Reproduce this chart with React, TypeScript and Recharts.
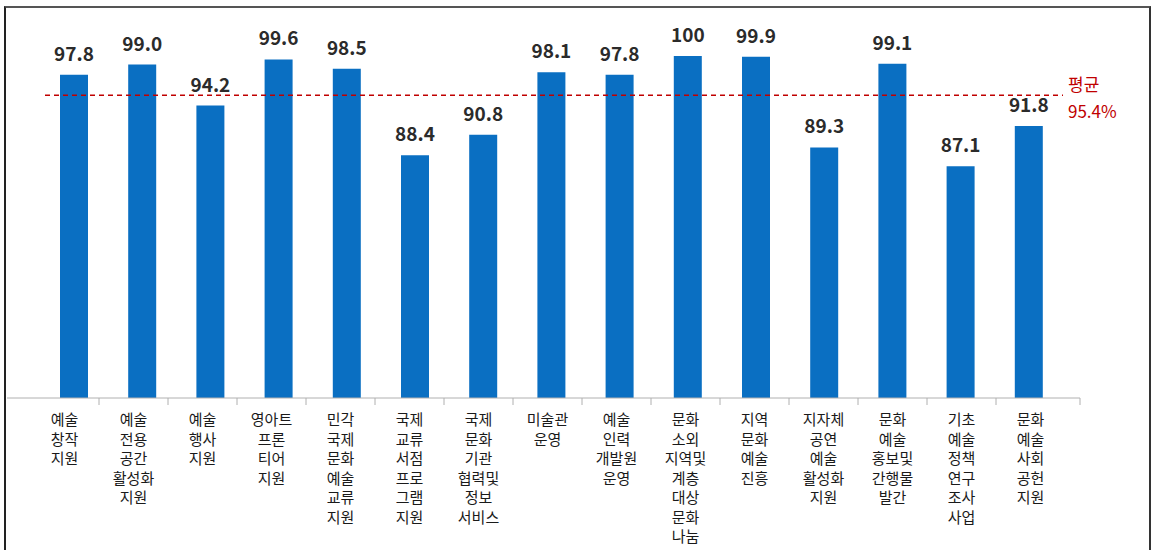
import { BarChart, Bar, XAxis, YAxis, ReferenceLine, LabelList } from 'recharts'

// 사업별 만족도 — 막대 15개, 평균선 95.4%
const categories = [
  '예술\n창작\n지원',
  '예술\n전용\n공간\n활성화\n지원',
  '예술\n행사\n지원',
  '영아트\n프론\n티어\n지원',
  '민각\n국제\n문화\n예술\n교류\n지원',
  '국제\n교류\n서점\n프로\n그램\n지원',
  '국제\n문화\n기관\n협력및\n정보\n서비스',
  '미술관\n운영',
  '예술\n인력\n개발원\n운영',
  '문화\n소외\n지역및\n계층\n대상\n문화\n나눔',
  '지역\n문화\n예술\n진흥',
  '지자체\n공연\n예술\n활성화\n지원',
  '문화\n예술\n홍보및\n간행물\n발간',
  '기초\n예술\n정책\n연구\n조사\n사업',
  '문화\n예술\n사회\n공헌\n지원',
]
const values = [97.8, 99.0, 94.2, 99.6, 98.5, 88.4, 90.8, 98.1, 97.8, 100, 99.9, 89.3, 99.1, 87.1, 91.8]
const average = 95.4
const averageLabel = ['평균', '95.4%']

const data = categories.map((name, i) => ({ name, value: values[i] }))

const FONT = '"Noto Sans CJK KR", "Noto Sans", sans-serif'
const BLUE = '#0a6fc2'
const RED = '#c00000'
const HALF_BAND = 34.5

function CategoryTick(props: any) {
  const { x, y, payload, index } = props
  const lines = String(payload.value).split('\n')
  return (
    <g>
      {index > 0 && <line x1={x - HALF_BAND} x2={x - HALF_BAND} y1={y} y2={y + 7} stroke="#b0b0b0" />}
      {index === categories.length - 1 && (
        <line x1={x + HALF_BAND + 15} x2={x + HALF_BAND + 15} y1={y} y2={y + 7} stroke="#b0b0b0" />
      )}
      <text x={x} y={y + 27} textAnchor="middle" fontSize={15} fill="#1a1a1a" fontFamily={FONT}>
        {lines.map((l, i) => (
          <tspan key={i} x={x} dy={i === 0 ? 0 : 19.5}>{l}</tspan>
        ))}
      </text>
    </g>
  )
}

// 평균선은 막대 영역(좌우 패딩 안쪽)에만 그림
function AverageShape(props: any) {
  const { x1, x2, y1 } = props
  return (
    <g>
      <line x1={x1 + 38} x2={x2 - 17} y1={y1} y2={y1} stroke={RED} strokeWidth={1.5} strokeDasharray="5 4" />
      <text x={x2 - 12} fill={RED} fontSize={17} fontFamily={FONT}>
        <tspan x={x2 - 12} y={y1 - 4}>{averageLabel[0]}</tspan>
        <tspan x={x2 - 12} y={y1 + 23}>{averageLabel[1]}</tspan>
      </text>
    </g>
  )
}

export default function App() {
  return (
    <div style={{ position: 'absolute', left: 0, top: 0, width: 1151, height: 550, background: '#fff' }}>
      <div
        style={{
          position: 'absolute', left: 4, top: 6, width: 1147, height: 544, boxSizing: 'border-box',
          borderTop: '2px solid #555', borderLeft: '2px solid #222', borderRight: '2px solid #333',
        }}
      />
      <BarChart width={1151} height={550} data={data} margin={{ top: 56, right: 71, left: 7, bottom: 12 }}>
        <YAxis hide domain={[60, 100]} allowDataOverflow />
        <XAxis
          xAxisId="lbl"
          dataKey="name"
          height={140}
          padding={{ left: 23, right: 15 }}
          tickLine={false}
          tickSize={0}
          tickMargin={0}
          interval={0}
          axisLine={{ stroke: '#b0b0b0' }}
          tick={<CategoryTick />}
        />
        <XAxis xAxisId="bar" dataKey="name" hide height={0} padding={{ left: 33, right: 17 }} />
        <ReferenceLine xAxisId="bar" y={average} shape={(p: any) => <AverageShape {...p} />} />
        <Bar xAxisId="bar" dataKey="value" fill={BLUE} barSize={28} isAnimationActive={false}>
          <LabelList
            dataKey="value"
            position="top"
            offset={14}
            formatter={(v: any) => (v === 100 ? '100' : Number(v).toFixed(1))}
            style={{ fontSize: 19, fontWeight: 700, fill: '#2b2b2b', fontFamily: FONT }}
          />
        </Bar>
      </BarChart>
    </div>
  )
}
